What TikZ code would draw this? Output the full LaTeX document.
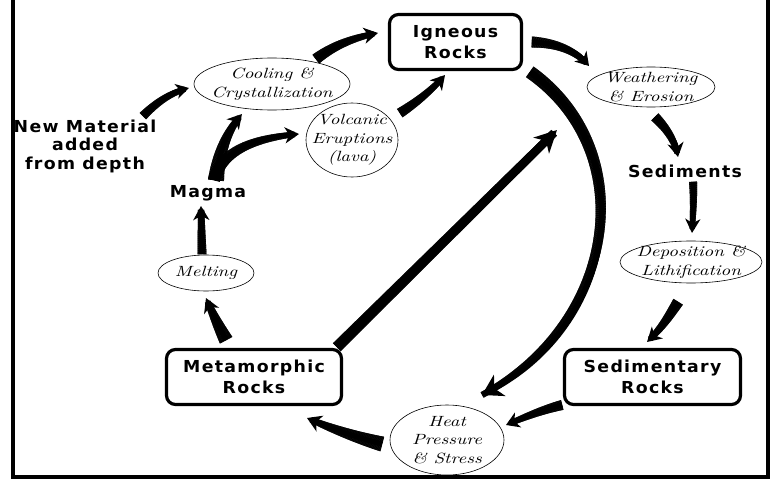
\documentclass[tikz,border=0pt]{standalone}
\usepackage{fontspec}
\usetikzlibrary{arrows.meta,decorations.markings,shapes.geometric}
\newfontfamily\boxfont{DejaVu Sans}[LetterSpace=8,FakeStretch=1.05]
\newfontfamily\scrfont{lmroman10-italic}[Extension=.otf,FakeStretch=1.28]
\tikzset{
  rockbox/.style={draw, line width=3.2pt, rounded corners=9pt, minimum width=#1,
    minimum height=55pt, align=center, inner sep=0pt,
    font=\boxfont\bfseries\fontsize{16.5}{21}\selectfont},
  proc/.style={draw, ellipse, line width=0.6pt, inner sep=0pt},
  ptext/.style={align=center, inner sep=0pt, font=\scrfont\fontsize{14.8}{18.5}\selectfont},
  lbl/.style={align=center, inner sep=0pt, font=\boxfont\bfseries\fontsize{16.5}{18.5}\selectfont},
  tap/.style n args={4}{% w0, w1, head length, head width
    line width=#2pt,
    -{Stealth[length=#3pt, width=#4pt, inset=0.3*#3pt]},
    postaction={decorate, decoration={markings,
      mark=between positions 0 and -4pt step 0.4pt with {%
        \pgfmathsetmacro\tapr{0.5*(#1-(#1-#2)*\pgfkeysvalueof{/pgf/decoration/mark info/distance from start}/\pgfdecoratedpathlength)}%
        \fill (-0.35pt,-\tapr pt) rectangle (0.35pt,\tapr pt);}}}
  }
}
\begin{document}
\begin{tikzpicture}[x=1pt, y=-1pt]
\useasboundingbox (0,0) rectangle (777,487);
\fill[white] (0,0) rectangle (777,487);
% frame
\draw[line width=4pt] (13,-5) -- (13,476.5) -- (768,476.5) -- (768,-5);

% rock boxes
\node[rockbox=132pt] (ign) at (455.5,42) {Igneous\\Rocks};
\node[rockbox=176pt] (sedr) at (652.5,377) {Sedimentary\\Rocks};
\node[rockbox=175pt] (meta) at (254,377) {Metamorphic\\Rocks};

% process ellipses
\node[proc, minimum width=128pt, minimum height=40pt, label={[ptext]center:{Weathering\\\& Erosion}}] (weath) at (651,87) {};
\node[proc, minimum width=142pt, minimum height=42pt, label={[ptext]center:{Deposition \&\\Lithification}}] (dep) at (691,262) {};
\node[proc, minimum width=114pt, minimum height=70pt, label={[ptext]center:{Heat\\Pressure\\\& Stress}}] (heat) at (447,440) {};
\node[proc, minimum width=96pt, minimum height=36pt, label={[ptext]center:{Melting}}] (melt) at (206,273) {};
\node[proc, minimum width=156pt, minimum height=52pt, label={[ptext]center:{Cooling \&\\Crystallization}}] (cool) at (272,84) {};
\node[proc, minimum width=92pt, minimum height=74pt, label={[ptext]center:{Volcanic\\Eruptions\\(lava)}}] (volc) at (352,140) {};

% plain labels
\node[lbl] (sed) at (685,171) {Sediments};
\node[lbl] (magma) at (208,193) {Magma};
\node[lbl] (newmat) at (85,146) {New Material\\added\\from depth};

% arrow end points
\coordinate (a1s) at (143,116);  \coordinate (a1e) at (189,88);
\coordinate (a2s) at (316,59);   \coordinate (a2e) at (378,33);
\coordinate (a3s) at (532,42);   \coordinate (a3e) at (589,66);
\coordinate (a4s) at (655,117);  \coordinate (a4e) at (678,157);
\coordinate (a5s) at (693,182);  \coordinate (a5e) at (692,233);
\coordinate (a6s) at (678,302);  \coordinate (a6e) at (647,342);
\coordinate (a7s) at (562,405);  \coordinate (a7e) at (506,425);
\coordinate (a8s) at (530,72);   \coordinate (a8e) at (482,395);
\coordinate (a9s) at (382,444);  \coordinate (a9e) at (307,418);
\coordinate (a10s) at (337,347); \coordinate (a10e) at (557,130);
\coordinate (a11s) at (226,340); \coordinate (a11e) at (206,298);
\coordinate (a12s) at (202,254); \coordinate (a12e) at (201,206);
\coordinate (a13s) at (216,180); \coordinate (a13e) at (242,114);
\coordinate (a14s) at (214,180); \coordinate (a14e) at (299,134);
\coordinate (a15s) at (400,113); \coordinate (a15e) at (445,75);

% arrows
\draw[tap={9}{5}{13}{15}] (a1s) .. controls (157,102) and (170,93) .. (a1e);
\draw[tap={11}{5}{14}{16}] (a2s) .. controls (333,46) and (352,38) .. (a2e);
\draw[tap={11}{5}{13}{16}] (a3s) .. controls (556,43) and (575,50) .. (a3e);
\draw[tap={10}{5}{14}{16}] (a4s) .. controls (666,128) and (675,140) .. (a4e);
\draw[tap={8}{5}{14}{15}] (a5s) .. controls (694,200) and (693,215) .. (a5e);
\draw[tap={11}{5}{14}{16}] (a6s) .. controls (668,318) and (660,330) .. (a6e);
\draw[tap={10}{5}{13}{16}] (a7s) .. controls (542,410) and (525,417) .. (a7e);
\draw[tap={13}{6}{20}{24}] (a8s) .. controls (640,150) and (620,320) .. (a8e);
\draw[tap={15}{5}{14}{17}] (a9s) .. controls (355,437) and (330,428) .. (a9e);
\draw[tap={11}{8}{22}{22}] (a10s) -- (a10e);
\draw[tap={14}{5}{14}{16}] (a11s) .. controls (218,325) and (212,312) .. (a11e);
\draw[tap={9}{6}{14}{16}] (a12s) -- (a12e);
\draw[tap={16}{5}{14}{16}] (a13s) .. controls (219,150) and (228,130) .. (a13e);
\draw[tap={12}{5}{14}{16}] (a14s) .. controls (222,150) and (255,138) .. (a14e);
\draw[tap={10}{5}{14}{16}] (a15s) .. controls (417,102) and (432,90) .. (a15e);
\end{tikzpicture}
\end{document}
